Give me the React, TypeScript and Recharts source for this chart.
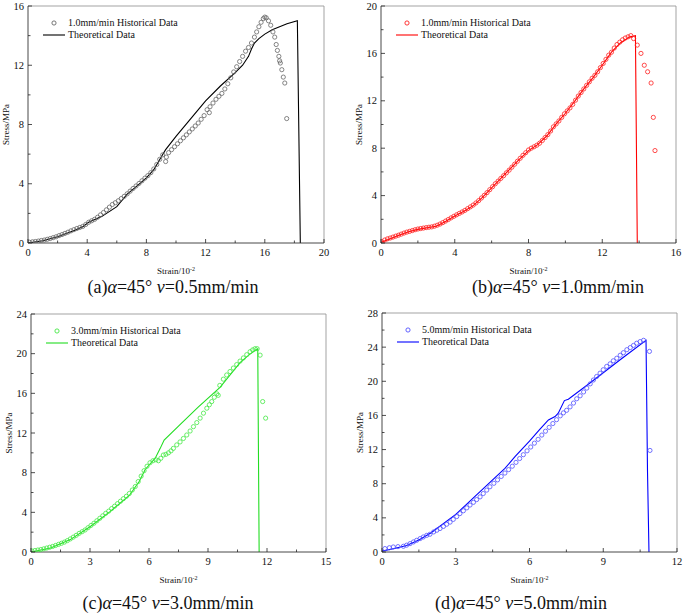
import React from 'react';
import { ComposedChart, Line, Scatter, XAxis, YAxis, ReferenceLine, Legend } from 'recharts';

const SERIF = '"Liberation Serif", "Times New Roman", serif';

// ---- panel (a) 0.5 mm/min ----
const scatterA = [
  [0.1, 0.05], [0.3, 0.08], [0.5, 0.1], [0.7, 0.13], [0.9, 0.17], [1.1, 0.2], [1.3, 0.25], [1.5, 0.3],
  [1.7, 0.36], [1.9, 0.42], [2.1, 0.5], [2.3, 0.57], [2.5, 0.65], [2.7, 0.73], [2.9, 0.82], [3.1, 0.9],
  [3.3, 0.98], [3.5, 1.05], [3.7, 1.12], [3.9, 1.25], [4.1, 1.4], [4.3, 1.5], [4.5, 1.6], [4.7, 1.74],
  [4.9, 1.9], [5.1, 2.06], [5.3, 2.24], [5.5, 2.42], [5.7, 2.6], [5.9, 2.72], [6.1, 2.85], [6.3, 3.0],
  [6.5, 3.15], [6.7, 3.32], [6.9, 3.5], [7.1, 3.68], [7.3, 3.85], [7.5, 4.02], [7.7, 4.2], [7.9, 4.38],
  [8.1, 4.55], [8.3, 4.75], [8.5, 5.0], [8.7, 5.3], [8.9, 5.65], [9.1, 5.95], [9.3, 5.5], [9.35, 5.8],
  [9.5, 6.1], [9.7, 6.3], [9.9, 6.5], [10.1, 6.7], [10.3, 6.9], [10.5, 7.1], [10.7, 7.3], [10.9, 7.5],
  [11.1, 7.7], [11.3, 7.9], [11.5, 8.1], [11.7, 8.35], [11.9, 8.6], [12.1, 9.0], [12.25, 8.8], [12.3, 9.2],
  [12.5, 9.45], [12.7, 9.7], [12.9, 9.9], [13.1, 10.1], [13.3, 10.4], [13.5, 10.75], [13.7, 11.15],
  [13.9, 11.55], [14.1, 11.9], [14.3, 12.25], [14.5, 12.6], [14.7, 12.95], [14.9, 13.2], [15.1, 13.5],
  [15.3, 13.9], [15.45, 14.25], [15.6, 14.6], [15.75, 14.9], [15.9, 15.15], [16.0, 15.25], [16.1, 15.2],
  [16.25, 15.0], [16.4, 14.7], [16.55, 14.25], [16.67, 13.9], [16.77, 13.4], [16.85, 13.0], [16.95, 12.6],
  [17.0, 12.3], [17.05, 12.15], [17.15, 11.7], [17.25, 11.2], [17.35, 10.8], [17.48, 8.4],
];
const lineA = [
  [0, 0], [1, 0.15], [2, 0.42], [3, 0.8], [3.7, 1.1], [4.1, 1.4], [5, 1.8], [6, 2.45], [6.7, 3.3], [7.25, 3.75],
  [8, 4.4], [8.5, 4.95], [9, 5.8], [9.3, 6.3], [10, 7.2], [11, 8.4], [12, 9.6], [13, 10.6], [14, 11.5],
  [14.5, 12.0], [14.9, 12.6], [15.1, 13.1], [15.3, 13.5], [15.6, 13.8], [16, 14.1], [16.5, 14.4],
  [17, 14.6], [17.5, 14.8], [18.2, 15.0], [18.4, 0],
];
const xTicksA = [0, 2, 4, 6, 8, 10, 12, 14, 16, 18, 20];
const xLabelsA = [0, 4, 8, 12, 16, 20];
const yTicksA = [0, 2, 4, 6, 8, 10, 12, 14, 16];
const yLabelsA = [0, 4, 8, 12, 16];

// ---- panel (b) 1.0 mm/min ----
const scatterB = [
  [0.05, 0.1], [0.2, 0.25], [0.35, 0.35], [0.5, 0.42], [0.65, 0.5], [0.8, 0.58], [0.95, 0.66], [1.1, 0.75],
  [1.25, 0.84], [1.4, 0.92], [1.55, 0.98], [1.7, 1.05], [1.85, 1.12], [2.0, 1.18], [2.15, 1.22], [2.3, 1.26],
  [2.45, 1.3], [2.6, 1.33], [2.75, 1.36], [2.9, 1.42], [3.05, 1.5], [3.2, 1.6], [3.35, 1.72], [3.5, 1.85],
  [3.65, 1.98], [3.8, 2.12], [3.95, 2.25], [4.1, 2.38], [4.25, 2.5], [4.4, 2.62], [4.55, 2.75], [4.7, 2.9],
  [4.85, 3.05], [5.0, 3.2], [5.15, 3.38], [5.3, 3.58], [5.45, 3.8], [5.6, 4.02], [5.75, 4.25], [5.9, 4.5],
  [6.05, 4.75], [6.2, 5.0], [6.35, 5.22], [6.5, 5.45], [6.65, 5.68], [6.8, 5.92], [6.95, 6.15], [7.1, 6.4],
  [7.25, 6.65], [7.4, 6.9], [7.55, 7.15], [7.7, 7.4], [7.85, 7.62], [8.0, 7.85], [8.15, 8.0], [8.3, 8.12],
  [8.45, 8.25], [8.6, 8.42], [8.75, 8.65], [8.9, 8.9], [9.05, 9.15], [9.2, 9.45], [9.35, 9.8], [9.5, 10.05],
  [9.65, 10.3], [9.8, 10.6], [9.95, 10.9], [10.1, 11.15], [10.25, 11.4], [10.4, 11.7], [10.55, 12.05],
  [10.7, 12.4], [10.85, 12.7], [11.0, 13.0], [11.15, 13.3], [11.3, 13.6], [11.45, 13.9], [11.6, 14.15],
  [11.75, 14.45], [11.9, 14.8], [12.05, 15.15], [12.2, 15.5], [12.35, 15.85], [12.5, 16.1], [12.65, 16.45],
  [12.8, 16.75], [12.95, 16.95], [13.1, 17.15], [13.25, 17.3], [13.4, 17.4], [13.55, 17.5], [13.7, 17.25],
  [13.9, 16.7], [14.1, 16.0], [14.28, 15.0], [14.46, 14.45], [14.65, 13.5], [14.77, 10.6], [14.86, 7.8],
];
const lineB = [
  [0, 0.05], [0.5, 0.35], [1, 0.68], [1.5, 0.95], [2, 1.15], [2.5, 1.28], [3, 1.42], [3.5, 1.82], [4, 2.28],
  [4.5, 2.68], [5, 3.15], [5.5, 3.85], [6, 4.65], [6.5, 5.45], [7, 6.25], [7.5, 7.05], [8, 7.8], [8.5, 8.3],
  [9, 9.05], [9.5, 10.05], [10, 10.95], [10.5, 11.95], [11, 13.0], [11.5, 13.95], [12, 15.0], [12.5, 16.1],
  [13, 16.9], [13.5, 17.4], [13.8, 17.5], [13.9, 0],
];
const xTicksB = [0, 2, 4, 6, 8, 10, 12, 14, 16];
const xLabelsB = [0, 4, 8, 12, 16];
const yTicksB = [0, 2, 4, 6, 8, 10, 12, 14, 16, 18, 20];
const yLabelsB = [0, 4, 8, 12, 16, 20];

// ---- panel (c) 3.0 mm/min ----
const scatterC = [
  [0.05, 0.1], [0.2, 0.15], [0.35, 0.2], [0.5, 0.25], [0.65, 0.32], [0.8, 0.4], [0.95, 0.48], [1.1, 0.56],
  [1.25, 0.66], [1.4, 0.77], [1.55, 0.88], [1.7, 1.0], [1.85, 1.15], [2.0, 1.32], [2.15, 1.5], [2.3, 1.68],
  [2.45, 1.88], [2.6, 2.05], [2.75, 2.22], [2.9, 2.45], [3.05, 2.68], [3.2, 2.9], [3.35, 3.15], [3.5, 3.4],
  [3.65, 3.65], [3.8, 3.9], [3.95, 4.12], [4.1, 4.38], [4.25, 4.62], [4.4, 4.88], [4.55, 5.12], [4.7, 5.38],
  [4.85, 5.62], [5.0, 5.9], [5.15, 6.25], [5.3, 6.6], [5.45, 7.1], [5.6, 7.65], [5.75, 8.2], [5.9, 8.65],
  [6.05, 9.0], [6.2, 9.2], [6.35, 9.3], [6.48, 9.2], [6.6, 9.45], [6.73, 9.78], [6.86, 9.85], [6.99, 10.0],
  [7.12, 10.2], [7.24, 10.45], [7.41, 10.8], [7.58, 11.1], [7.75, 11.45], [7.92, 11.8], [8.09, 12.2],
  [8.26, 12.64], [8.43, 13.05], [8.6, 13.5], [8.77, 14.0], [8.94, 14.5], [9.07, 14.85], [9.19, 15.17],
  [9.32, 15.6], [9.45, 15.95], [9.52, 15.8], [9.6, 16.8], [9.78, 17.43], [9.95, 17.85], [10.12, 18.2],
  [10.29, 18.55], [10.46, 18.9], [10.63, 19.25], [10.8, 19.57], [10.97, 19.9], [11.14, 20.2],
  [11.27, 20.38], [11.39, 20.5], [11.5, 20.5], [11.65, 19.85], [11.78, 15.17], [11.93, 13.5],
];
const lineC = [
  [0, 0], [1, 0.4], [2, 1.25], [3, 2.55], [4, 4.05], [5, 5.7], [5.5, 7.1], [5.8, 8.3], [6.06, 8.9],
  [6.31, 9.44], [6.57, 10.45], [6.77, 11.29], [7.5, 12.7], [8.5, 14.6], [9.61, 16.6], [10.63, 19.1],
  [11.1, 19.9], [11.53, 20.5], [11.6, 0],
];
const xTicksC = [0, 1.5, 3, 4.5, 6, 7.5, 9, 10.5, 12, 13.5, 15];
const xLabelsC = [0, 3, 6, 9, 12, 15];
const yTicksC = [0, 2, 4, 6, 8, 10, 12, 14, 16, 18, 20, 22, 24];
const yLabelsC = [0, 4, 8, 12, 16, 20, 24];

// ---- panel (d) 5.0 mm/min ----
const scatterD = [
  [0.12, 0.4], [0.3, 0.5], [0.46, 0.59], [0.65, 0.63], [0.87, 0.67], [1.0, 0.8], [1.14, 0.98], [1.28, 1.18],
  [1.41, 1.37], [1.55, 1.57], [1.68, 1.76], [1.82, 1.95], [1.95, 2.08], [2.1, 2.35], [2.23, 2.55],
  [2.36, 2.75], [2.5, 3.0], [2.63, 3.25], [2.77, 3.5], [2.9, 3.82], [3.04, 4.15], [3.17, 4.5], [3.31, 4.83],
  [3.45, 5.17], [3.58, 5.5], [3.72, 5.82], [3.85, 6.14], [3.99, 6.46], [4.12, 6.85], [4.26, 7.25],
  [4.39, 7.64], [4.55, 8.05], [4.7, 8.45], [4.85, 8.85], [5.0, 9.25], [5.15, 9.65], [5.3, 10.05],
  [5.45, 10.5], [5.6, 10.95], [5.75, 11.4], [5.9, 11.85], [6.05, 12.3], [6.2, 12.75], [6.35, 13.2],
  [6.5, 13.7], [6.65, 14.15], [6.8, 14.6], [6.95, 15.05], [7.1, 15.5], [7.25, 15.95], [7.38, 16.3],
  [7.51, 16.6], [7.65, 17.0], [7.79, 17.45], [7.92, 17.95], [8.06, 18.3], [8.2, 18.75], [8.33, 19.2],
  [8.47, 19.7], [8.6, 20.15], [8.73, 20.56], [8.87, 20.95], [9.0, 21.35], [9.14, 21.74], [9.28, 22.05],
  [9.41, 22.4], [9.55, 22.7], [9.69, 23.05], [9.82, 23.35], [9.96, 23.7], [10.1, 23.95], [10.23, 24.2],
  [10.36, 24.46], [10.5, 24.65], [10.64, 24.8], [10.88, 23.5], [10.9, 11.9],
];
const lineD = [
  [0, 0.1], [0.5, 0.4], [1, 0.75], [1.5, 1.4], [2, 2.25], [3, 4.4], [4, 7.1], [5, 9.8], [5.41, 11.16],
  [6, 13.0], [6.4, 14.3], [6.77, 15.47], [7.04, 15.87], [7.17, 16.26], [7.42, 17.74], [7.58, 17.9],
  [8.46, 19.8], [9.7, 22.55], [10.74, 24.8], [10.8, 9.5], [10.86, 0],
];
const xTicksD = [0, 1.5, 3, 4.5, 6, 7.5, 9, 10.5, 12];
const xLabelsD = [0, 3, 6, 9, 12];
const yTicksD = [0, 2, 4, 6, 8, 10, 12, 14, 16, 18, 20, 22, 24, 26, 28];
const yLabelsD = [0, 4, 8, 12, 16, 20, 24, 28];

const toPts = (arr: number[][]) => arr.map(([x, y]) => ({ x, y }));

const XTick = (props: any) => {
  const { x, y, payload, labels } = props;
  const major = labels.includes(payload.value);
  return (
    <g>
      <line x1={x} y1={y} x2={x} y2={y - (major ? 4 : 2.5)} stroke="#222" strokeWidth={0.8} />
      {major && (
        <text x={x} y={y + 12.5} textAnchor="middle" fontSize={10.5} fontFamily={SERIF} fill="#111">
          {payload.value}
        </text>
      )}
    </g>
  );
};

const YTick = (props: any) => {
  const { x, y, payload, labels } = props;
  const major = labels.includes(payload.value);
  return (
    <g>
      <line x1={x} y1={y} x2={x + (major ? 4 : 2.5)} y2={y} stroke="#222" strokeWidth={0.8} />
      {major && (
        <text x={x - 4} y={y + 3.5} textAnchor="end" fontSize={10.5} fontFamily={SERIF} fill="#111">
          {payload.value}
        </text>
      )}
    </g>
  );
};

const XTitle = (props: any) => {
  const vb = props.viewBox || {};
  return (
    <text x={vb.x + vb.width / 2} y={vb.y + 31} textAnchor="middle" fontSize={9} fontFamily={SERIF} fill="#111">
      Strain/10<tspan dy={-3.5} fontSize={6}>-2</tspan>
    </text>
  );
};

const YTitle = (props: any) => {
  const vb = props.viewBox || {};
  const cx = vb.x + vb.width - 21;
  const cy = vb.y + vb.height / 2;
  return (
    <text x={cx} y={cy} transform={`rotate(-90 ${cx} ${cy})`} textAnchor="middle" dominantBaseline="middle"
      fontSize={9} fontFamily={SERIF} fill="#111">
      Stress/MPa
    </text>
  );
};

type PanelProps = {
  left: number; top: number; width: number; height: number;
  margin: { top: number; right: number; bottom: number; left: number };
  scatter: number[][]; line: number[][];
  xMax: number; yMax: number;
  xTicks: number[]; xLabels: number[]; yTicks: number[]; yLabels: number[];
  markColor: string; lineColor: string; rate: string;
  caption: React.ReactNode; captionX: number; captionY: number;
};

function Panel(p: PanelProps) {
  const legend = () => (
    <div style={{ fontFamily: SERIF, fontSize: 10, color: '#111', lineHeight: '12px' }}>
      <div style={{ display: 'flex', alignItems: 'center', height: 12 }}>
        <svg width={40} height={12}>
          <circle cx={26} cy={6} r={2.1} fill="none" stroke={p.markColor} strokeWidth={0.9} />
        </svg>
        <span style={{ whiteSpace: 'nowrap' }}>{p.rate} Historical Data</span>
      </div>
      <div style={{ display: 'flex', alignItems: 'center', height: 12 }}>
        <svg width={40} height={12}>
          <line x1={15} y1={6} x2={37} y2={6} stroke={p.lineColor} strokeWidth={1.1} />
        </svg>
        <span style={{ whiteSpace: 'nowrap' }}>Theoretical Data</span>
      </div>
    </div>
  );

  // axes get 1px of room so they render; plot area stays where the margins say
  const m = { top: p.margin.top, right: p.margin.right, bottom: p.margin.bottom - 1, left: p.margin.left - 1 };

  return (
    <div style={{ position: 'absolute', left: p.left, top: p.top, width: p.width, height: p.height }}>
      <ComposedChart width={p.width} height={p.height} margin={m}>
        <XAxis
          dataKey="x"
          type="number"
          domain={[0, p.xMax]}
          ticks={p.xTicks}
          interval={0}
          height={1}
          tickSize={0}
          tickMargin={0}
          tickLine={false}
          axisLine={{ stroke: '#333', strokeWidth: 0.9 }}
          tick={<XTick labels={p.xLabels} />}
          label={<XTitle />}
          allowDataOverflow
        />
        <YAxis
          type="number"
          domain={[0, p.yMax]}
          ticks={p.yTicks}
          interval={0}
          width={1}
          tickSize={0}
          tickMargin={0}
          tickLine={false}
          axisLine={{ stroke: '#333', strokeWidth: 0.9 }}
          tick={<YTick labels={p.yLabels} />}
          label={<YTitle />}
          allowDataOverflow
        />
        <ReferenceLine y={p.yMax} stroke="#999" strokeWidth={0.9} />
        <ReferenceLine x={p.xMax} stroke="#999" strokeWidth={0.9} />
        <Legend
          layout="vertical"
          align="center"
          verticalAlign="middle"
          content={legend}
          wrapperStyle={{ left: p.margin.left, top: p.margin.top + 11, width: 'auto' }}
        />
        <Scatter
          name={`${p.rate} Historical Data`}
          data={toPts(p.scatter)}
          dataKey="y"
          fill={p.markColor}
          isAnimationActive={false}
          shape={(s: any) => (
            <circle cx={s.cx} cy={s.cy} r={2.1} fill="none" stroke={p.markColor} strokeWidth={0.8} />
          )}
        />
        <Line
          name="Theoretical Data"
          data={toPts(p.line)}
          dataKey="y"
          type="linear"
          stroke={p.lineColor}
          strokeWidth={1.1}
          dot={false}
          activeDot={false}
          isAnimationActive={false}
        />
      </ComposedChart>
      <div
        style={{
          position: 'absolute', left: p.captionX - 150, top: p.captionY - 11, width: 300, height: 22,
          textAlign: 'center', fontFamily: SERIF, fontSize: 18, lineHeight: '22px', color: '#111',
          whiteSpace: 'nowrap',
        }}
      >
        {p.caption}
      </div>
    </div>
  );
}

export default function App() {
  return (
    <div style={{ position: 'absolute', left: 0, top: 0, width: 685, height: 615, background: '#fff' }}>
      <Panel
        left={0} top={0} width={342} height={300}
        margin={{ top: 6, right: 18, bottom: 57, left: 28 }}
        scatter={scatterA} line={lineA} xMax={20} yMax={16}
        xTicks={xTicksA} xLabels={xLabelsA} yTicks={yTicksA} yLabels={yLabelsA}
        markColor="#666" lineColor="#000" rate="1.0mm/min"
        caption={<>(a)<i>α</i>=45° <i>v</i>=0.5mm/min</>} captionX={173} captionY={287}
      />
      <Panel
        left={342} top={0} width={343} height={300}
        margin={{ top: 6, right: 9, bottom: 57, left: 39 }}
        scatter={scatterB} line={lineB} xMax={16} yMax={20}
        xTicks={xTicksB} xLabels={xLabelsB} yTicks={yTicksB} yLabels={yLabelsB}
        markColor="#ff2020" lineColor="#ff0000" rate="1.0mm/min"
        caption={<>(b)<i>α</i>=45° <i>v</i>=1.0mm/min</>} captionX={216} captionY={287}
      />
      <Panel
        left={0} top={305} width={342} height={310}
        margin={{ top: 9, right: 16, bottom: 63, left: 31 }}
        scatter={scatterC} line={lineC} xMax={15} yMax={24}
        xTicks={xTicksC} xLabels={xLabelsC} yTicks={yTicksC} yLabels={yLabelsC}
        markColor="#44e844" lineColor="#22dd22" rate="3.0mm/min"
        caption={<>(c)<i>α</i>=45° <i>v</i>=3.0mm/min</>} captionX={168} captionY={298}
      />
      <Panel
        left={342} top={305} width={343} height={310}
        margin={{ top: 8, right: 8, bottom: 63, left: 40 }}
        scatter={scatterD} line={lineD} xMax={12} yMax={28}
        xTicks={xTicksD} xLabels={xLabelsD} yTicks={yTicksD} yLabels={yLabelsD}
        markColor="#5050ff" lineColor="#0000ff" rate="5.0mm/min"
        caption={<>(d)<i>α</i>=45° <i>v</i>=5.0mm/min</>} captionX={179} captionY={298}
      />
    </div>
  );
}
